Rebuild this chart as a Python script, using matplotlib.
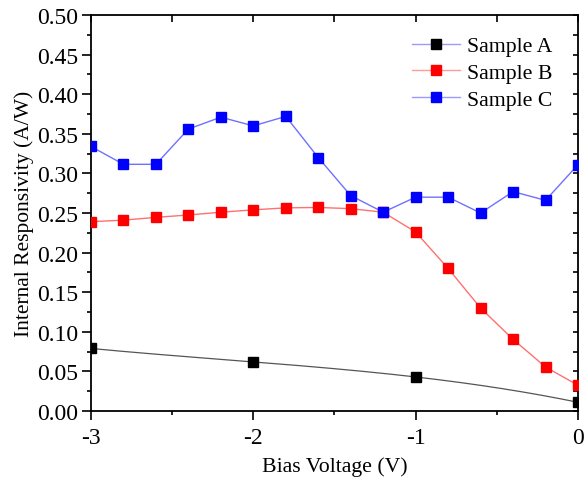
import numpy as np
import matplotlib
matplotlib.use("Agg")
import matplotlib.pyplot as plt
from matplotlib.lines import Line2D
from matplotlib.ticker import MultipleLocator, FuncFormatter

plt.rcParams['font.family'] = ['Liberation Serif', 'DejaVu Serif']

# Data
x_a = [-3.0, -2.0, -1.0, 0.0]
y_a = [0.079, 0.062, 0.043, 0.011]

x_bc = [-3.0, -2.8, -2.6, -2.4, -2.2, -2.0, -1.8, -1.6, -1.4, -1.2,
        -1.0, -0.8, -0.6, -0.4, -0.2, 0.0]
y_b = [0.239, 0.241, 0.2445, 0.2475, 0.251, 0.254, 0.2565, 0.257, 0.2555, 0.251,
       0.226, 0.180, 0.130, 0.0905, 0.0556, 0.0325]
y_c = [0.334, 0.3115, 0.3115, 0.356, 0.371, 0.360, 0.372, 0.320, 0.272, 0.251,
       0.270, 0.270, 0.250, 0.277, 0.266, 0.311]

labels = ["Sample A", "Sample B", "Sample C"]

fig = plt.figure(figsize=(5.84, 4.85), dpi=100)
ax = fig.add_axes([0.1558, 0.1505, 0.9897 - 0.1558, 0.967 - 0.1505])

# Sample A: smooth line through its points + markers
coef = np.polyfit(x_a, y_a, 3)
xs = np.linspace(min(x_a), max(x_a), 200)
ax.plot(xs, np.polyval(coef, xs), color='#555555', lw=0.9, zorder=2)
ax.plot(x_a, y_a, ls='none', marker='s', ms=7, color='black', zorder=3)

ax.plot(x_bc, y_b, color='#ff7070', lw=1.0, marker='s', ms=7,
        mfc='#ff0000', mec='#ff0000', zorder=3)
ax.plot(x_bc, y_c, color='#7070ff', lw=1.0, marker='s', ms=7,
        mfc='#0000ff', mec='#0000ff', zorder=3)

ax.set_xlim(-3, 0)
ax.set_ylim(0, 0.5)
ax.xaxis.set_major_locator(MultipleLocator(1))
ax.xaxis.set_minor_locator(MultipleLocator(0.5))
ax.yaxis.set_major_locator(MultipleLocator(0.05))
ax.yaxis.set_minor_locator(MultipleLocator(0.025))
ax.xaxis.set_major_formatter(FuncFormatter(lambda v, p: f"{v:.0f}"))
ax.yaxis.set_major_formatter(FuncFormatter(lambda v, p: f"{v:.2f}"))

ax.tick_params(which='major', direction='out', length=6.3, width=1.2, labelsize=17)
ax.tick_params(which='minor', direction='out', length=3.2, width=1.2)
ax.tick_params(axis='x', pad=5)
ax.tick_params(axis='y', pad=3)
for s in ax.spines.values():
    s.set_linewidth(1.3)

# Top and right inward ticks
axt = ax.secondary_xaxis('top')
axt.xaxis.set_major_locator(MultipleLocator(1))
axt.xaxis.set_minor_locator(MultipleLocator(0.5))
axt.tick_params(which='both', direction='in', length=5, width=1.2, labeltop=False)
axt.spines['top'].set_visible(False)
axr = ax.secondary_yaxis('right')
axr.yaxis.set_major_locator(MultipleLocator(0.05))
axr.yaxis.set_minor_locator(MultipleLocator(0.025))
axr.tick_params(which='both', direction='in', length=3.5, width=1.2, labelright=False)
axr.spines['right'].set_visible(False)

ax.set_xlabel("Bias Voltage (V)", fontsize=15.7, labelpad=6)
ax.set_ylabel("Internal Responsivity (A/W)", fontsize=15.5, labelpad=2)

handles = [
    Line2D([], [], color='#9a9aff', lw=1.0, marker='s', ms=7, mfc='black', mec='black'),
    Line2D([], [], color='#ff9a9a', lw=1.0, marker='s', ms=7, mfc='#ff0000', mec='#ff0000'),
    Line2D([], [], color='#9a9aff', lw=1.0, marker='s', ms=7, mfc='#0000ff', mec='#0000ff'),
]
ax.legend(handles, labels, loc='upper right', bbox_to_anchor=(0.975, 0.98),
          frameon=False, fontsize=15.7, handlelength=2.2, labelspacing=0.3,
          handletextpad=0.35, borderaxespad=0.2)

fig.savefig("out.png", dpi=100)
